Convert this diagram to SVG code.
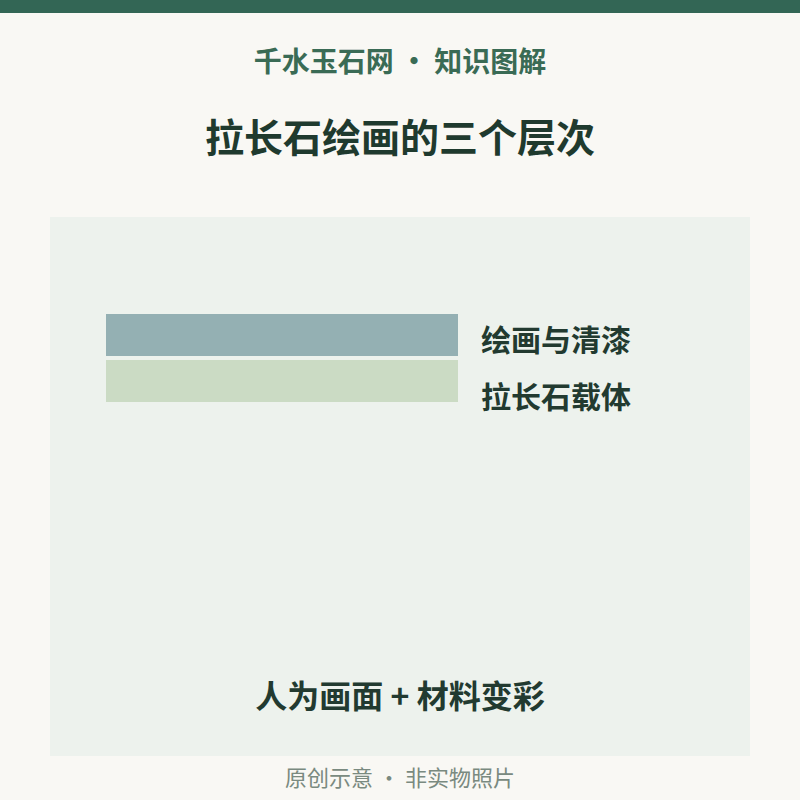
<svg xmlns="http://www.w3.org/2000/svg" width="800" height="800" viewBox="0 0 800 800">
<style>
.t{font-family:"Noto Sans CJK SC","Noto Sans",sans-serif;font-weight:700;}
.lbl{font-family:"Noto Sans CJK SC","Noto Sans",sans-serif;font-weight:700;font-size:30px;fill:#223a30;}
</style>
<rect x="0" y="0" width="800" height="800" fill="#f9f8f4"/>
<rect x="0" y="0" width="800" height="13" fill="#336655"/>
<text class="t" x="400" y="72" text-anchor="middle" font-size="28" fill="#3a6b55">千水玉石网 · 知识图解</text>
<text class="t" x="400" y="152" text-anchor="middle" font-size="39" fill="#1f3a2e">拉长石绘画的三个层次</text>
<rect x="50" y="217" width="700" height="539" fill="#edf2ed"/>
<g id="layer-paint">
<rect x="106" y="314" width="352" height="42" fill="#94b0b3"/>
<text class="lbl" x="481" y="351">绘画与清漆</text>
</g>
<g id="layer-stone">
<rect x="106" y="360" width="352" height="42" fill="#cbdbc4"/>
<text class="lbl" x="481" y="408">拉长石载体</text>
</g>
<g id="connectors"></g>
<text class="t" x="400" y="708" text-anchor="middle" font-size="32" fill="#223a30">人为画面 + 材料变彩</text>
<text x="400" y="786" text-anchor="middle" font-size="22" font-family="Noto Sans CJK SC,sans-serif" fill="#7a8a80">原创示意 · 非实物照片</text>
</svg>
